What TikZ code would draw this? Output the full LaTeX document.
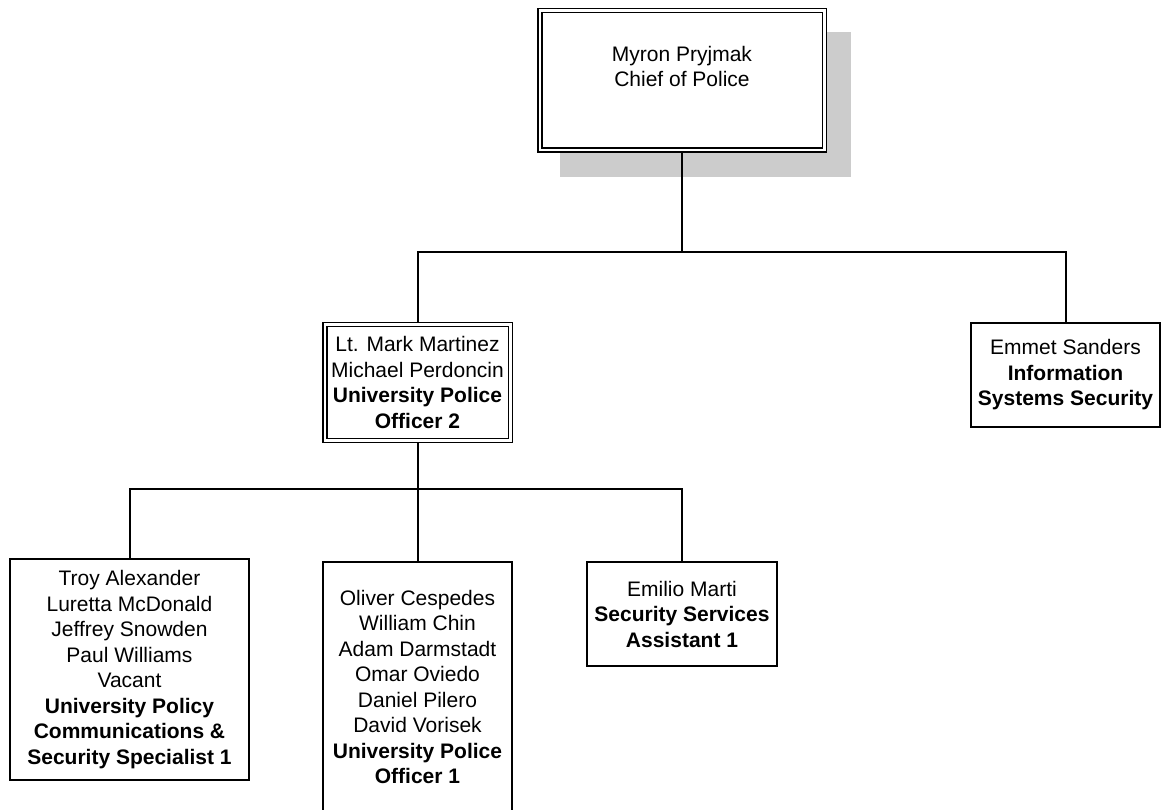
\documentclass[tikz,border=0pt]{standalone}
\usepackage{fontspec}
\setmainfont{Liberation Sans}
\usetikzlibrary{backgrounds}
\definecolor{shadowgray}{RGB}{204,204,204}
\begin{document}
\begin{tikzpicture}[x=1pt,y=-1pt,
  every node/.style={font=\fontsize{21}{25.5}\selectfont, align=center, inner sep=0pt, outer sep=0pt},
  box/.style={draw, line width=2pt, fill=white, rectangle},
  dbox/.style={draw, line width=1.5pt, double=white, double distance=2.5pt, fill=white, rectangle},
  conn/.style={line width=2pt, line join=miter}]
\useasboundingbox (0,0) rectangle (1162,810);
\clip (0,0) rectangle (1162,810);

\node[dbox, minimum width=284.5pt, minimum height=139.5pt] (chief) at (682,80.5) {};
\node (chieflbl) at (682,66.5) {Myron Pryjmak\\Chief of Police};

\node[dbox, minimum width=185.5pt, minimum height=115.5pt] (mid) at (417.5,382.5)
  {Lt. Mark Martinez\\Michael Perdoncin\\\textbf{University Police}\\\textbf{Officer 2}};

\node[box, minimum width=189pt, minimum height=104pt] (emmet) at (1065.5,375)
  {Emmet Sanders\\\textbf{Information}\\\textbf{Systems Security}};

\node[box, minimum width=239pt, minimum height=221pt] (left) at (129.5,669.5)
  {Troy Alexander\\Luretta McDonald\\Jeffrey Snowden\\Paul Williams\\Vacant\\\textbf{University Policy}\\\textbf{Communications \&}\\\textbf{Security Specialist 1}};

\node[box, minimum width=189pt, minimum height=250pt] (ofc) at (417.5,687)
  {Oliver Cespedes\\William Chin\\Adam Darmstadt\\Omar Oviedo\\Daniel Pilero\\David Vorisek\\\textbf{University Police}\\\textbf{Officer 1}};

\node[box, minimum width=190pt, minimum height=104pt] (emilio) at (682,614)
  {Emilio Marti\\\textbf{Security Services}\\\textbf{Assistant 1}};

\begin{pgfonlayer}{background}
\fill[shadowgray] (560,32) rectangle (851,177);
\coordinate (j1) at (682,252);
\coordinate (j2) at (417.5,489);
\draw[conn] (chief.south) -- (j1);
\draw[conn] (mid.north) |- (j1) -| (emmet.north);
\draw[conn] (mid.south) -- (j2);
\draw[conn] (left.north) |- (j2) -| (emilio.north);
\draw[conn] (j2) -- (ofc.north);
\end{pgfonlayer}
\end{tikzpicture}
\end{document}
